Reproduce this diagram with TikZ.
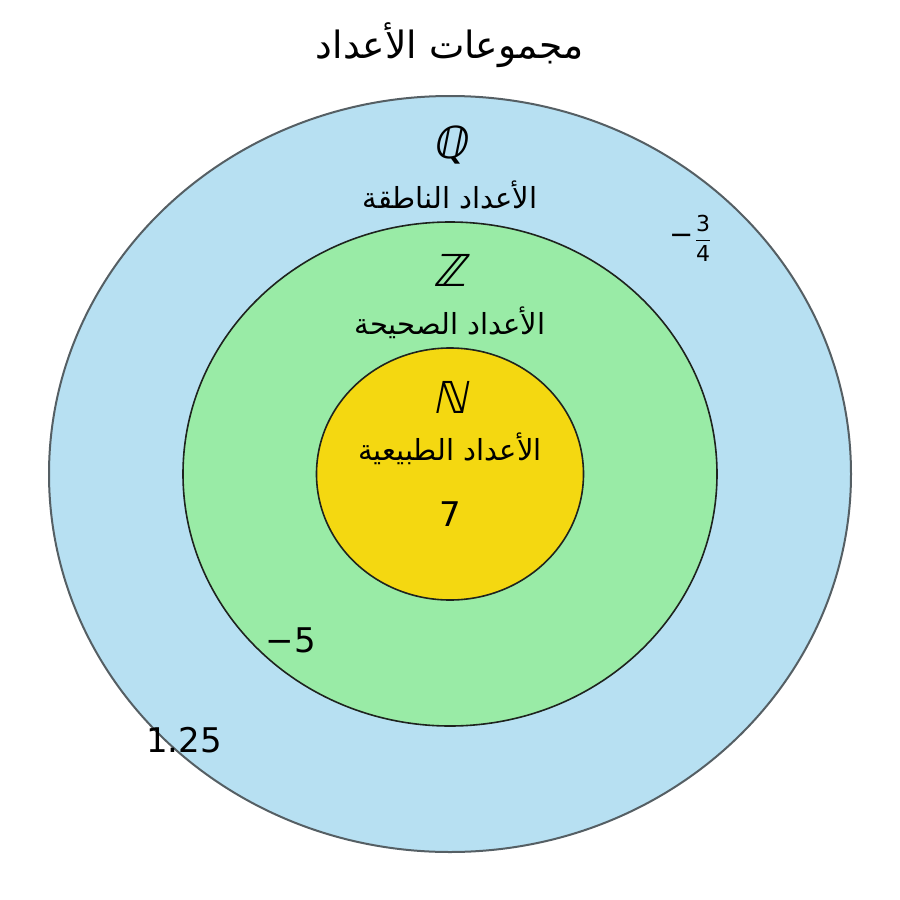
\documentclass[tikz,border=0pt]{standalone}
\usepackage{fontspec}
\setmainfont{DejaVu Sans}
\newfontfamily\arabicfont[Script=Arabic]{DejaVu Sans}
\newfontfamily\symfont[FakeSlant=0.2]{DejaVu Sans}
\TeXXeTstate=1
\definecolor{qblue}{RGB}{183,224,242}
\definecolor{zgreen}{RGB}{153,235,166}
\definecolor{nyellow}{RGB}{244,216,17}
\definecolor{outline}{RGB}{85,95,100}
\definecolor{inline}{RGB}{30,35,30}
\tikzset{
  setq/.style={fill=qblue, draw=outline, line width=1pt},
  setz/.style={fill=zgreen, draw=inline, line width=0.8pt},
  setn/.style={fill=nyellow, draw=inline, line width=0.8pt},
  arlabel/.style={inner sep=0pt, font=\fontsize{14.5}{16}\arabicfont},
  setsym/.style={inner sep=0pt, font=\fontsize{22}{24}\symfont},
  num/.style={inner sep=0pt, font=\fontsize{17}{19}\selectfont},
}
\begin{document}
\begin{tikzpicture}[x=0.5pt,y=-0.5pt]
\useasboundingbox (0,0) rectangle (900,900);
\fill[white] (0,0) rectangle (900,900);
\path[setq] (450,474) ellipse [x radius=401, y radius=378];
\path[setz] (450,474) ellipse [x radius=267, y radius=252];
\path[setn] (450,474) ellipse [x radius=133.5, y radius=126];
\node[inner sep=0pt, font=\fontsize{18.8}{21}\arabicfont] (title) at (450,45) {\beginR مجموعات الأعداد\endR};
\node[setsym] (qsym) at (450,145) {ℚ};
\node[arlabel] (qlab) at (450,195) {\beginR الأعداد الناطقة\endR};
\node[setsym] (zsym) at (450,270) {ℤ};
\node[arlabel] (zlab) at (450,323) {\beginR الأعداد الصحيحة\endR};
\node[setsym] (nsym) at (450,397) {ℕ};
\node[arlabel] (nlab) at (450,449) {\beginR الأعداد الطبيعية\endR};
\node[num] (seven) at (450,514) {7};
\node[num] (mfive) at (291,640) {−5};
\node[num] (onetwofive) at (184,740) {1.25};
\node[inner sep=0pt, font=\fontsize{11}{13}\selectfont] (frac) at (691,238) {\raisebox{1pt}{\fontsize{14.5}{16}\selectfont −}$\displaystyle\frac{\mbox{3}}{\mbox{4}}$};
\end{tikzpicture}
\end{document}
